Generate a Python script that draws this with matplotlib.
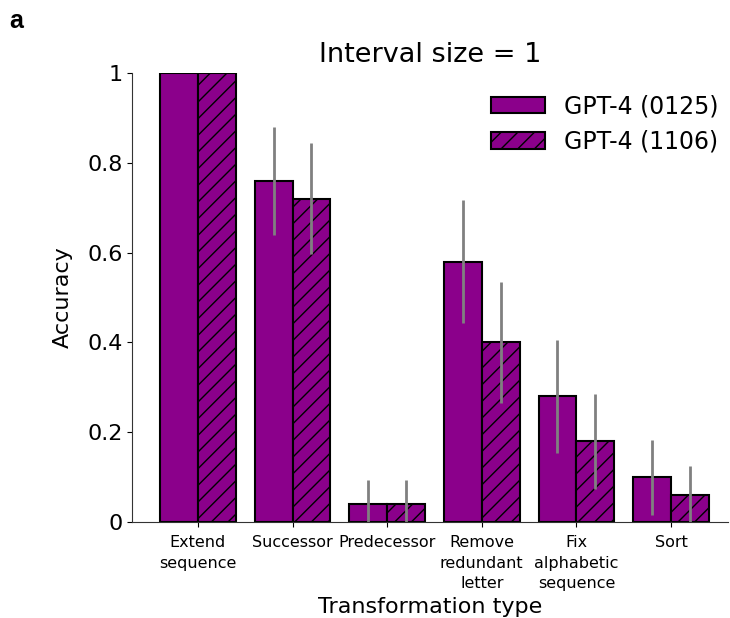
import numpy as np
import matplotlib
matplotlib.use('Agg')
import matplotlib.pyplot as plt

categories = ['Extend\nsequence', 'Successor', 'Predecessor', 'Remove\nredundant\nletter',
              'Fix\nalphabetic\nsequence', 'Sort']
acc_0125 = [1.0, 0.76, 0.04, 0.58, 0.28, 0.10]
err_0125 = [0.0, 0.12, 0.054, 0.137, 0.125, 0.083]
acc_1106 = [1.0, 0.72, 0.04, 0.40, 0.18, 0.06]
err_1106 = [0.0, 0.124, 0.054, 0.135, 0.105, 0.065]
labels = ['GPT-4 (0125)', 'GPT-4 (1106)']

PURPLE = '#8b008b'

fig = plt.figure(figsize=(7.3, 6.18), dpi=100)
ax = fig.add_axes([0.181, 0.155, 0.816, 0.727])

x = np.arange(len(categories))
w = 0.4
ax.bar(x - w / 2, acc_0125, w, color=PURPLE, edgecolor='black', linewidth=1.5,
       label=labels[0])
ax.bar(x + w / 2, acc_1106, w, color=PURPLE, edgecolor='black', linewidth=1.5,
       hatch='//', label=labels[1])
ax.errorbar(x - w / 2, acc_0125, yerr=err_0125, fmt='none', ecolor='gray', elinewidth=2)
ax.errorbar(x + w / 2, acc_1106, yerr=err_1106, fmt='none', ecolor='gray', elinewidth=2)

ax.set_ylim(0, 1)
ax.set_xlim(-0.695, 5.6)
ax.set_yticks([0, 0.2, 0.4, 0.6, 0.8, 1])
ax.set_yticklabels(['0', '0.2', '0.4', '0.6', '0.8', '1'], fontsize=16)
ax.set_xticks(x)
ax.set_xticklabels(categories, fontsize=11.5, linespacing=1.45)
ax.tick_params(axis='x', pad=6)
ax.set_ylabel('Accuracy', fontsize=16, labelpad=10)
ax.set_xlabel('Transformation type', fontsize=16, labelpad=4)
ax.set_title('Interval size = 1', fontsize=19.5, pad=8)
for s in ['top', 'right']:
    ax.spines[s].set_visible(False)
for s in ['left', 'bottom']:
    ax.spines[s].set_color('#333333')

ax.legend(fontsize=17, frameon=False, loc='upper right', bbox_to_anchor=(1.02, 1.0),
          handlelength=2.3)

fig.text(0.012, 0.955, 'a', fontsize=18, fontweight='bold', family='Liberation Sans')

fig.savefig('out.png', dpi=100)
